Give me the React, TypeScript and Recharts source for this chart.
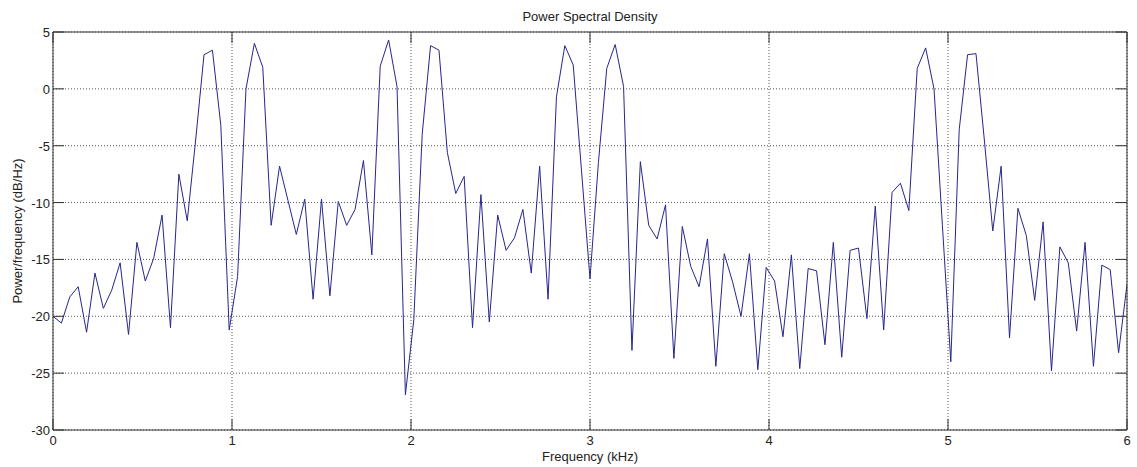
import * as React from "react";
import { LineChart, Line, XAxis, YAxis, CartesianGrid } from "recharts";

// PSD estimate, 129 bins from 0 to 6 kHz (dB/Hz)
const psdValues = [
  -20.0, -20.6, -18.3, -17.4, -21.4, -16.2, -19.3, -17.7, -15.3, -21.6,
  -13.5, -16.9, -14.9, -11.1, -21.0, -7.5, -11.6, -4.5, 3.0, 3.4,
  -3.2, -21.2, -16.5, 0.0, 4.0, 1.9, -12.0, -6.8, -9.8, -12.8,
  -9.7, -18.5, -9.7, -18.2, -9.9, -12.0, -10.6, -6.3, -14.6, 2.0,
  4.3, 0.2, -26.9, -20.3, -4.0, 3.8, 3.4, -5.6, -9.2, -7.7,
  -21.0, -9.3, -20.5, -11.1, -14.2, -13.1, -10.6, -16.2, -6.8, -18.5,
  -0.7, 3.8, 2.1, -7.3, -16.7, -6.5, 1.8, 3.9, 0.2, -23.0,
  -6.4, -12.0, -13.2, -10.2, -23.7, -12.1, -15.6, -17.4, -13.2, -24.4,
  -14.5, -17.0, -20.0, -14.5, -24.7, -15.7, -16.9, -21.8, -14.6, -24.6,
  -15.8, -16.0, -22.5, -13.5, -23.6, -14.2, -14.0, -20.2, -10.3, -21.2,
  -9.1, -8.3, -10.7, 1.8, 3.6, 0.0, -12.0, -24.0, -3.6, 3.0,
  3.1, -4.5, -12.5, -6.8, -21.9, -10.5, -12.9, -18.6, -11.7, -24.8,
  -13.9, -15.3, -21.3, -13.5, -24.4, -15.5, -15.9, -23.2, -17.2,
];

const freqStep = 6 / 128; // kHz per bin
const xTicks = [0, 1, 2, 3, 4, 5, 6];
const yTicks = [-30, -25, -20, -15, -10, -5, 0, 5];

const chartData = psdValues.map((v, i) => ({ freq: i * freqStep, psd: v }));

const axisColor = "#333";
const textColor = "#222";
const tickLen = 11;

const BottomTick = (props: any) => {
  const { x, y, payload } = props;
  return (
    <g>
      <line x1={x} x2={x} y1={y} y2={y - tickLen} stroke={axisColor} />
      <text x={x} y={y + 15} textAnchor="middle" fontSize={13} fill={textColor}>
        {payload.value}
      </text>
    </g>
  );
};

const TopTick = (props: any) => {
  const { x, y } = props;
  return <line x1={x} x2={x} y1={y} y2={y + tickLen} stroke={axisColor} />;
};

const LeftTick = (props: any) => {
  const { x, y, payload } = props;
  return (
    <g>
      <line x1={x} x2={x + tickLen} y1={y} y2={y} stroke={axisColor} />
      <text x={x - 3} y={y + 5} textAnchor="end" fontSize={13} fill={textColor}>
        {payload.value}
      </text>
    </g>
  );
};

const RightTick = (props: any) => {
  const { x, y } = props;
  return <line x1={x} x2={x - tickLen} y1={y} y2={y} stroke={axisColor} />;
};

export default function App() {
  return (
    <div
      style={{
        position: "absolute",
        left: 0,
        top: 0,
        width: 1137,
        height: 467,
        background: "#fff",
        fontFamily: "'Liberation Sans', Arial, sans-serif",
        color: textColor,
      }}
    >
      <div style={{ position: "absolute", left: 53, width: 1074, top: 9, textAlign: "center", fontSize: 13, lineHeight: "16px" }}>
        Power Spectral Density
      </div>
      <div style={{ position: "absolute", left: 53, width: 1074, top: 449, textAlign: "center", fontSize: 13, lineHeight: "16px" }}>
        Frequency (kHz)
      </div>
      <div
        style={{
          position: "absolute",
          left: 18,
          top: 231,
          fontSize: 13,
          lineHeight: "16px",
          whiteSpace: "nowrap",
          transform: "translate(-50%, -50%) rotate(-90deg)",
        }}
      >
        Power/frequency (dB/Hz)
      </div>

      <LineChart width={1137} height={467} data={chartData} margin={{ top: 0, right: 0, bottom: 0, left: 0 }}>
        <CartesianGrid stroke="#555" strokeDasharray="1 2" />
        <XAxis
          dataKey="freq"
          type="number"
          domain={[0, 6]}
          ticks={xTicks}
          height={37}
          tickSize={0}
          tickMargin={0}
          tickLine={false}
          axisLine={{ stroke: axisColor }}
          tick={<BottomTick />}
          allowDataOverflow
        />
        <XAxis
          xAxisId="top"
          orientation="top"
          dataKey="freq"
          type="number"
          domain={[0, 6]}
          ticks={xTicks}
          height={32}
          tickSize={0}
          tickMargin={0}
          tickLine={false}
          axisLine={{ stroke: axisColor }}
          tick={<TopTick />}
          allowDataOverflow
        />
        <YAxis
          type="number"
          domain={[-30, 5]}
          ticks={yTicks}
          width={53}
          tickSize={0}
          tickMargin={0}
          tickLine={false}
          axisLine={{ stroke: axisColor }}
          tick={<LeftTick />}
          allowDataOverflow
        />
        <YAxis
          yAxisId="right"
          orientation="right"
          type="number"
          domain={[-30, 5]}
          ticks={yTicks}
          width={10}
          tickSize={0}
          tickMargin={0}
          tickLine={false}
          axisLine={{ stroke: axisColor }}
          tick={<RightTick />}
          allowDataOverflow
        />
        <Line
          type="linear"
          dataKey="psd"
          stroke="#26268c"
          strokeWidth={1}
          dot={false}
          isAnimationActive={false}
        />
      </LineChart>
    </div>
  );
}
